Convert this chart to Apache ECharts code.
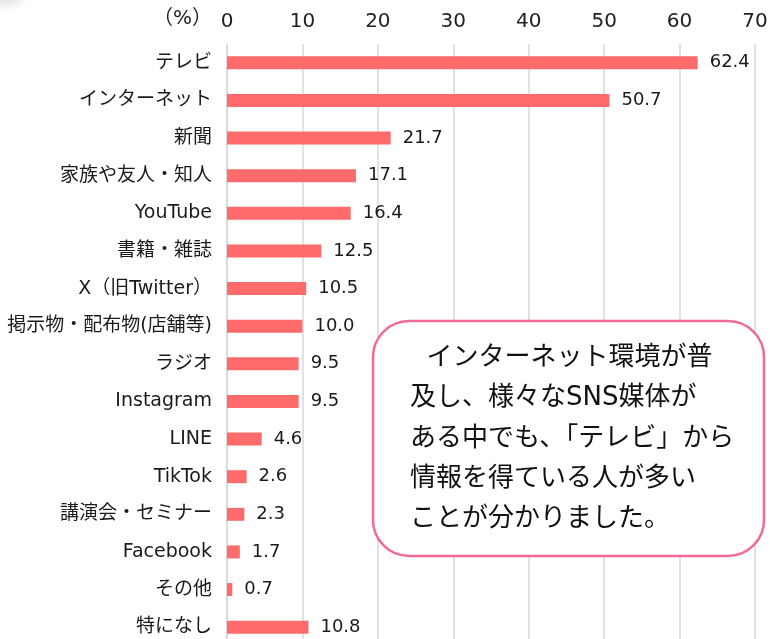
<!DOCTYPE html>
<html><head><meta charset="utf-8">
<script src="https://cdn.jsdelivr.net/npm/echarts@6/dist/echarts.min.js"></script>
<style>html,body{margin:0;padding:0;background:#fff}#c{width:770px;height:639px}</style>
</head><body><div id="c"></div>
<script>
var categories = ['テレビ','インターネット','新聞','家族や友人・知人','YouTube','書籍・雑誌','X（旧Twitter）','掲示物・配布物(店舗等)','ラジオ','Instagram','LINE','TikTok','講演会・セミナー','Facebook','その他','特になし'];
var values = [62.4,50.7,21.7,17.1,16.4,12.5,10.5,10.0,9.5,9.5,4.6,2.6,2.3,1.7,0.7,10.8];
var xTicks = [0,10,20,30,40,50,60,70];
var noteLines = ['  インターネット環境が普','及し、様々なSNS媒体が','ある中でも、「テレビ」から','情報を得ている人が多い','ことが分かりました。'];
var font = '"DejaVu Sans", "Noto Sans CJK JP", sans-serif';
var chart = echarts.init(document.getElementById('c'));
chart.setOption({
  animation:false,
  textStyle:{fontFamily:font},
  grid:{left:227,right:15,top:44,height:602,containLabel:false,outerBoundsMode:'none'},
  xAxis:{type:'value',position:'top',min:0,max:70,interval:10,
    axisLine:{show:false},axisTick:{show:false},
    axisLabel:{color:'#222',fontSize:20,margin:12,fontFamily:font,
      formatter:function(v){return xTicks.indexOf(v)>=0?String(v):'';}},
    splitLine:{lineStyle:{color:'#d9d9d9',width:1.5}}},
  yAxis:{type:'category',data:categories,inverse:true,
    axisLine:{show:true,lineStyle:{color:'#d9d9d9',width:1.5}},axisTick:{show:false},
    axisLabel:{color:'#1a1a1a',fontSize:19,margin:15,fontFamily:font}},
  series:[{type:'bar',data:values,barWidth:13,
    itemStyle:{color:'#FF6B6B'},
    label:{show:true,position:'right',distance:12,color:'#1a1a1a',fontSize:18,fontFamily:font,
      formatter:function(p){return p.value.toFixed(1);}}}],
  graphic:[
    {type:'text',left:153,top:9,style:{text:'（%）',font:'20px '+font,fill:'#222'}},
    {type:'circle',shape:{cx:5,cy:-16,r:30},style:{fill:{type:'radial',x:0.5,y:0.5,r:0.5,colorStops:[{offset:0,color:'rgba(110,110,110,0.6)'},{offset:1,color:'rgba(200,200,200,0)'}]}},silent:true},
    {type:'rect',shape:{x:373,y:321,width:391,height:235,r:36},style:{fill:'#fff',stroke:'#F06A9A',lineWidth:2.5},z:100},
    {type:'text',left:410,top:338,z:101,style:{text:noteLines.join('\n'),font:'26px '+font,lineHeight:40.3,fill:'#111'}}
  ]
});
</script></body></html>
